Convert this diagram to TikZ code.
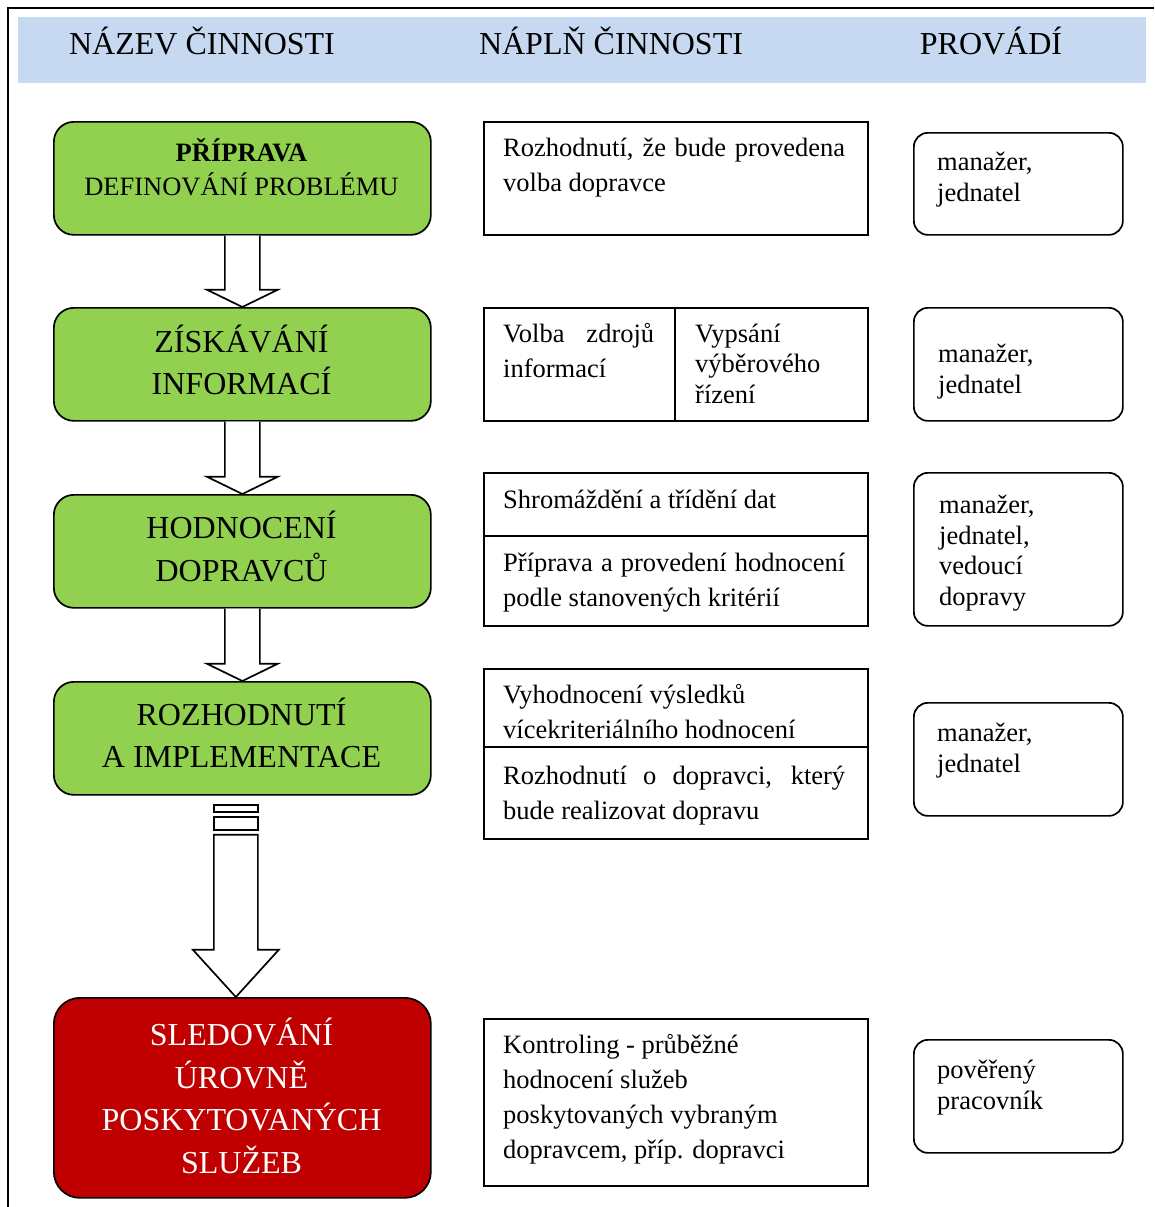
\documentclass[tikz,border=0pt]{standalone}
\usepackage{fontspec}
\setmainfont{Liberation Serif}
\usetikzlibrary{calc}
\definecolor{hdrblue}{HTML}{C6D9F0}
\definecolor{stepgreen}{HTML}{92D050}
\definecolor{stepred}{HTML}{C00000}
\newcommand{\bodyfont}{\fontsize{26.5}{35}\selectfont}
\newcommand{\bigfont}{\fontsize{32}{42}\selectfont}
\begin{document}
\begin{tikzpicture}[x=1pt,y=-1pt,
  lw/.style={line width=1.7pt},
  greenbox/.style={lw, draw, fill=stepgreen, rounded corners=20pt, inner sep=0pt, anchor=north west, minimum width=377pt},
  redbox/.style={lw, draw, fill=stepred, rounded corners=26pt, inner sep=0pt, anchor=north west, minimum width=377pt},
  midbox/.style={lw, draw, fill=white, inner sep=0pt, anchor=north west, minimum width=384pt},
  whobox/.style={lw, draw, fill=white, rounded corners=14pt, inner sep=0pt, anchor=north west, minimum width=209pt},
  hdr/.style={anchor=base, inner sep=0pt, font=\bigfont},
  gtxt/.style={anchor=base, inner sep=0pt, font=\bigfont},
  btxt/.style={anchor=base west, inner sep=0pt, font=\bodyfont},
  blockarrow/.style={lw, draw, fill=white, line join=miter}
]
\useasboundingbox (0,0) rectangle (1154,1207);
% frame and header band
\draw[lw] (8,1207) -- (8,8) -- (1154,8);
\fill[hdrblue] (18,17) rectangle (1146,83);
\node[hdr] (h1) at (202,55) {NÁZEV ČINNOSTI};
\node[hdr] (h2) at (611,55) {NÁPLŇ ČINNOSTI};
\node[hdr] (h3) at (991,55) {PROVÁDÍ};

% left column
\node[greenbox, minimum height=113pt] (g1) at (53,121) {};
\node[greenbox, minimum height=113pt] (g2) at (53,307) {};
\node[greenbox, minimum height=113pt] (g3) at (53,494) {};
\node[greenbox, minimum height=113pt] (g4) at (53,681) {};
\node[redbox, minimum height=200pt] (r5) at (53,997) {};

\node[btxt, anchor=base, font=\bodyfont\bfseries] (t1a) at (241.5,161) {PŘÍPRAVA};
\node[btxt, anchor=base] (t1b) at (241.5,195) {DEFINOVÁNÍ PROBLÉMU};
\node[gtxt] (t2a) at (241.5,352) {ZÍSKÁVÁNÍ};
\node[gtxt] (t2b) at (241.5,394) {INFORMACÍ};
\node[gtxt] (t3a) at (241.5,538) {HODNOCENÍ};
\node[gtxt] (t3b) at (241.5,581) {DOPRAVCŮ};
\node[gtxt] (t4a) at (241.5,725) {ROZHODNUTÍ};
\node[gtxt] (t4b) at (241.5,767) {A IMPLEMENTACE};
\node[gtxt, text=white] (t5a) at (241.5,1045) {SLEDOVÁNÍ};
\node[gtxt, text=white] (t5b) at (241.5,1088) {ÚROVNĚ};
\node[gtxt, text=white] (t5c) at (241.5,1130) {POSKYTOVANÝCH};
\node[gtxt, text=white] (t5d) at (241.5,1173) {SLUŽEB};

% block arrows
\draw[blockarrow] ($(g1.south)+(-17.5,0)$) -- ($(g1.south)+(-17.5,54)$) -- ($(g1.south)+(-35.5,54)$)
  -- (g2.north) -- ($(g1.south)+(35.5,54)$) -- ($(g1.south)+(17.5,54)$) -- ($(g1.south)+(17.5,0)$);
\draw[blockarrow] ($(g2.south)+(-17.5,0)$) -- ($(g2.south)+(-17.5,55)$) -- ($(g2.south)+(-35.5,55)$)
  -- (g3.north) -- ($(g2.south)+(35.5,55)$) -- ($(g2.south)+(17.5,55)$) -- ($(g2.south)+(17.5,0)$);
\draw[blockarrow] ($(g3.south)+(-17.5,0)$) -- ($(g3.south)+(-17.5,55)$) -- ($(g3.south)+(-35.5,55)$)
  -- (g4.north) -- ($(g3.south)+(35.5,55)$) -- ($(g3.south)+(17.5,55)$) -- ($(g3.south)+(17.5,0)$);
\coordinate (tip) at ($(r5.north)+(-6.5,0)$);
\draw[blockarrow] ($(g4.south)+(-28.5,9)$) rectangle ($(g4.south)+(15.5,16)$);
\draw[blockarrow] ($(g4.south)+(-28.5,21)$) rectangle ($(g4.south)+(15.5,34)$);
\draw[blockarrow] ($(g4.south)+(-28.5,39)$) -- ($(g4.south)+(-28.5,154)$) -- ($(g4.south)+(-49.5,154)$)
  -- (tip) -- ($(g4.south)+(36.5,154)$) -- ($(g4.south)+(15.5,154)$) -- ($(g4.south)+(15.5,39)$) -- cycle;

% middle column
\node[midbox, minimum height=113pt] (m1) at (483,121) {};
\node[midbox, minimum height=113pt] (m2) at (483,307) {};
\node[midbox, minimum height=153pt] (m3) at (483,472) {};
\node[midbox, minimum height=170pt] (m4) at (483,668) {};
\node[midbox, minimum height=167pt] (m5) at (483,1018) {};
\draw[lw] ($(m2.north west)+(192,0)$) -- ($(m2.south west)+(192,0)$);
\draw[lw] ($(m3.north west)+(0,64)$) -- ($(m3.north east)+(0,64)$);
\draw[lw] ($(m4.north west)+(0,79)$) -- ($(m4.north east)+(0,79)$);

\node[btxt] (n1a) at (503,156) {\makebox[342pt][s]{Rozhodnutí, že bude provedena}};
\node[btxt] (n1b) at (503,191) {volba dopravce};
\node[btxt] (n2a) at (503,342) {\makebox[151pt][s]{Volba zdrojů}};
\node[btxt] (n2b) at (503,377) {informací};
\node[btxt] (n2c) at (695,342) {Vypsání};
\node[btxt] (n2d) at (695,372) {výběrového};
\node[btxt] (n2e) at (695,403) {řízení};
\node[btxt] (n3a) at (503,508) {Shromáždění a třídění dat};
\node[btxt] (n3b) at (503,571) {\makebox[342pt][s]{Příprava a provedení hodnocení}};
\node[btxt] (n3c) at (503,606) {podle stanovených kritérií};
\node[btxt] (n4a) at (503,703) {Vyhodnocení výsledků};
\node[btxt] (n4b) at (503,738) {vícekriteriálního hodnocení};
\node[btxt] (n4c) at (503,784) {\makebox[342pt][s]{Rozhodnutí o dopravci, který}};
\node[btxt] (n4d) at (503,819) {bude realizovat dopravu};
\node[btxt] (n5a) at (503,1053) {Kontroling - průběžné};
\node[btxt] (n5b) at (503,1088) {hodnocení služeb};
\node[btxt] (n5c) at (503,1123) {poskytovaných vybraným};
\node[btxt] (n5d) at (503,1158) {dopravcem, příp. dopravci};

% right column
\node[whobox, minimum height=102pt] (w1) at (913,132) {};
\node[whobox, minimum height=113pt] (w2) at (913,307) {};
\node[whobox, minimum height=153pt] (w3) at (913,472) {};
\node[whobox, minimum height=113pt] (w4) at (913,702) {};
\node[whobox, minimum height=113pt] (w5) at (913,1039) {};

\node[btxt] (p1a) at (937,170) {manažer,};
\node[btxt] (p1b) at (937,201) {jednatel};
\node[btxt] (p2a) at (938,362) {manažer,};
\node[btxt] (p2b) at (938,393) {jednatel};
\node[btxt] (p3a) at (939,513) {manažer,};
\node[btxt] (p3b) at (939,544) {jednatel,};
\node[btxt] (p3c) at (939,574) {vedoucí};
\node[btxt] (p3d) at (939,605) {dopravy};
\node[btxt] (p4a) at (937,741) {manažer,};
\node[btxt] (p4b) at (937,772) {jednatel};
\node[btxt] (p5a) at (937,1078) {pověřený};
\node[btxt] (p5b) at (937,1109) {pracovník};
\end{tikzpicture}
\end{document}
